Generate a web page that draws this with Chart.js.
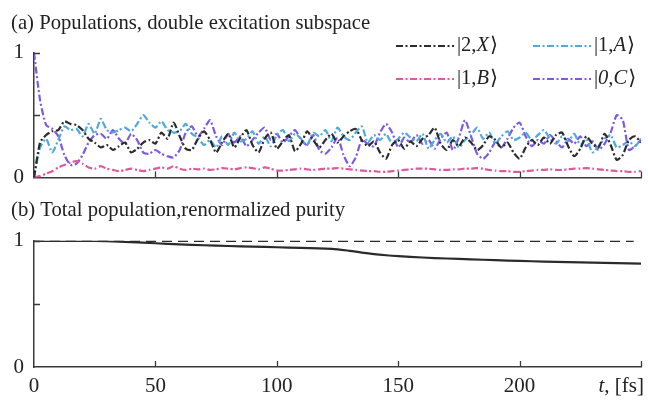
<!DOCTYPE html>
<html>
<head>
<meta charset="utf-8">
<script src="https://cdn.jsdelivr.net/npm/chart.js@4.4.1/dist/chart.umd.min.js"></script>
<style>
  html, body { margin: 0; padding: 0; background: #fff; }
  #wrap { position: relative; width: 648px; height: 400px; }
  #top { position: absolute; left: 0; top: 0; }
  #bottom { position: absolute; left: 0; top: 190px; }
</style>
</head>
<body>
<div id="wrap">
  <canvas id="top" width="648" height="200"></canvas>
  <canvas id="bottom" width="648" height="210"></canvas>
</div>
<script>
// sampling step of the population traces, fs
const STEP = 2.5;

// populations, panel (a)
const popX = [ // |2,X>
  0.00,0.28,0.34,0.37,0.38,0.45,0.43,0.42,0.38,0.31,
  0.28,0.24,0.26,0.22,0.25,0.28,0.20,0.23,0.28,0.30,
  0.27,0.36,0.31,0.44,0.33,0.23,0.22,0.31,0.37,0.30,
  0.20,0.28,0.35,0.24,0.32,0.38,0.26,0.20,0.31,0.36,
  0.23,0.29,0.34,0.21,0.27,0.37,0.30,0.24,0.30,0.35,
  0.28,0.33,0.37,0.39,0.30,0.25,0.29,0.20,0.15,0.26,
  0.30,0.23,0.29,0.25,0.31,0.34,0.40,0.27,0.22,0.30,
  0.25,0.32,0.28,0.22,0.26,0.33,0.30,0.24,0.28,0.20,
  0.15,0.24,0.30,0.26,0.32,0.27,0.34,0.36,0.25,0.17,
  0.23,0.33,0.27,0.24,0.35,0.26,0.14,0.18,0.30,0.33,
  0.28];
const popA = [ // |1,A>
  0.00,0.24,0.31,0.20,0.30,0.41,0.38,0.39,0.33,0.43,
  0.35,0.47,0.38,0.36,0.38,0.40,0.37,0.43,0.50,0.44,
  0.40,0.45,0.38,0.36,0.37,0.43,0.35,0.32,0.26,0.30,
  0.24,0.33,0.26,0.36,0.29,0.31,0.37,0.27,0.33,0.25,
  0.34,0.38,0.29,0.35,0.31,0.26,0.36,0.33,0.38,0.29,
  0.40,0.33,0.30,0.36,0.41,0.28,0.34,0.30,0.35,0.27,
  0.31,0.36,0.32,0.29,0.35,0.23,0.30,0.35,0.28,0.33,
  0.24,0.30,0.34,0.40,0.31,0.36,0.27,0.33,0.37,0.30,
  0.32,0.36,0.30,0.34,0.38,0.31,0.27,0.33,0.29,0.35,
  0.26,0.31,0.20,0.25,0.31,0.34,0.24,0.26,0.29,0.25,
  0.31];
const popB = [ // |1,B>
  0.00,0.01,0.03,0.05,0.08,0.10,0.12,0.13,0.11,0.08,
  0.07,0.09,0.07,0.06,0.05,0.06,0.07,0.06,0.05,0.06,
  0.07,0.08,0.07,0.09,0.07,0.06,0.07,0.065,0.07,0.06,
  0.065,0.075,0.07,0.065,0.075,0.08,0.075,0.065,0.08,0.07,
  0.055,0.055,0.06,0.065,0.07,0.065,0.06,0.065,0.07,0.07,
  0.075,0.07,0.065,0.06,0.055,0.05,0.05,0.045,0.045,0.05,
  0.055,0.06,0.065,0.07,0.07,0.07,0.065,0.06,0.06,0.065,
  0.065,0.07,0.07,0.075,0.07,0.06,0.055,0.05,0.05,0.045,
  0.045,0.05,0.055,0.06,0.06,0.065,0.06,0.06,0.065,0.07,
  0.07,0.075,0.07,0.065,0.06,0.055,0.05,0.05,0.045,0.045,
  0.05];
const popC = [ // |0,C>
  1.00,0.62,0.42,0.39,0.33,0.18,0.10,0.11,0.18,0.28,
  0.34,0.35,0.31,0.38,0.31,0.27,0.35,0.30,0.20,0.19,
  0.22,0.19,0.17,0.16,0.22,0.36,0.41,0.33,0.39,0.46,
  0.33,0.26,0.35,0.28,0.33,0.25,0.30,0.36,0.40,0.30,
  0.35,0.28,0.33,0.38,0.30,0.26,0.34,0.22,0.19,0.24,
  0.32,0.18,0.09,0.16,0.30,0.27,0.25,0.36,0.43,0.36,
  0.24,0.32,0.28,0.34,0.27,0.30,0.23,0.31,0.36,0.22,
  0.32,0.46,0.33,0.19,0.15,0.20,0.28,0.24,0.31,0.40,
  0.44,0.33,0.25,0.30,0.27,0.34,0.29,0.24,0.31,0.27,
  0.33,0.25,0.29,0.22,0.27,0.36,0.50,0.46,0.22,0.25,
  0.30];

// panel (b)
const totalT = [0, 247];
const totalV = [1, 1];
const purityT = [0,25,30,40,50,60,70,80,90,100,110,120,125,130,135,140,145,150,160,170,180,190,200,210,220,230,240,250];
const purityV = [1.0,1.0,0.998,0.99,0.981,0.972,0.965,0.959,0.954,0.949,0.944,0.939,0.933,0.921,0.907,0.895,0.886,0.879,0.868,0.86,0.853,0.847,0.841,0.836,0.832,0.828,0.823,0.819];

const xTicks = [0, 50, 100, 150, 200];
const legendLabels = [['|2,', 'X', '\u27E9'], ['|1,', 'A', '\u27E9'], ['|1,', 'B', '\u27E9'], ['|', '0,C', '\u27E9']];

const SERIF = "'Liberation Serif', 'DejaVu Serif', serif";
const INK = '#222';
const AXIS = '#3a3a3a';
const DASHDOT = [7, 2.5, 2, 2.5];

const toPts = (xs, ys) => ys.map((y, i) => ({ x: xs[i], y }));
const gridT = popX.map((_, i) => i * STEP);

// ticks drawn inward from the axis lines
const inwardTicks = {
  id: 'inwardTicks',
  afterDraw(chart) {
    const { ctx, chartArea, scales } = chart;
    ctx.save();
    ctx.strokeStyle = AXIS;
    ctx.lineWidth = 1.3;
    ctx.beginPath();
    scales.x.ticks.forEach(t => {
      if (t.value === 0) return;
      const px = Math.round(scales.x.getPixelForValue(t.value)) + 0.5;
      ctx.moveTo(px, chartArea.bottom);
      ctx.lineTo(px, chartArea.bottom - 6);
    });
    scales.y.ticks.forEach(t => {
      if (t.value === 0) return;
      const py = Math.round(scales.y.getPixelForValue(t.value)) + 0.5;
      ctx.moveTo(chartArea.left, py);
      ctx.lineTo(chartArea.left + 6, py);
    });
    ctx.stroke();
    ctx.restore();
  }
};

// two-column legend with italic state letters
const pairLegend = {
  id: 'pairLegend',
  afterDraw(chart) {
    const { ctx } = chart;
    const cols = [396, 533];
    const rows = [46, 79];
    ctx.save();
    chart.data.datasets.forEach((ds, i) => {
      const x = cols[i % 2], y = rows[Math.floor(i / 2)];
      ctx.strokeStyle = ds.borderColor;
      ctx.lineWidth = 2.2;
      ctx.setLineDash(ds.borderDash);
      ctx.beginPath();
      ctx.moveTo(x, y);
      ctx.lineTo(x + 58, y);
      ctx.stroke();
      ctx.setLineDash([]);
      ctx.fillStyle = INK;
      ctx.textBaseline = 'middle';
      let tx = x + 61;
      const [a, b, c] = legendLabels[i];
      ctx.font = '20.5px ' + SERIF;
      ctx.fillText(a, tx, y);
      tx += ctx.measureText(a).width;
      ctx.font = 'italic 20.5px ' + SERIF;
      ctx.fillText(b, tx, y);
      tx += ctx.measureText(b).width + 1;
      ctx.font = '20.5px ' + SERIF;
      ctx.fillText(c, tx, y);
    });
    ctx.restore();
  }
};

// axis caption in place of the last tick label
const timeCaption = {
  id: 'timeCaption',
  afterDraw(chart) {
    const { ctx, chartArea } = chart;
    ctx.save();
    ctx.fillStyle = INK;
    ctx.textBaseline = 'middle';
    const y = chartArea.bottom + 19;
    ctx.font = '21px ' + SERIF;
    const rest = ', [fs]';
    const wr = ctx.measureText(rest).width;
    const right = 644;
    ctx.fillText(rest, right - wr, y);
    ctx.font = 'italic 21px ' + SERIF;
    const wt = ctx.measureText('t').width;
    ctx.fillText('t', right - wr - wt, y);
    ctx.restore();
  }
};

function xScale(showLabels, height) {
  return {
    type: 'linear', min: 0, max: 250,
    grid: { display: false, drawTicks: false },
    border: { display: true, color: AXIS, width: 1.5 },
    ticks: {
      display: showLabels, stepSize: 50, padding: 7,
      color: INK, font: { family: SERIF, size: 21 },
      callback: v => xTicks.includes(v) ? String(v) : ''
    },
    afterFit: s => { s.height = height; }
  };
}

function yScale() {
  return {
    min: 0, max: 1,
    grid: { display: false, drawTicks: false },
    border: { display: true, color: AXIS, width: 1.5 },
    ticks: {
      stepSize: 0.5, padding: 10,
      color: INK, font: { family: SERIF, size: 21 },
      callback: v => (v === 0 || v === 1) ? String(v) : ''
    },
    afterFit: s => { s.width = 23; }
  };
}

function titleOpts(text, top, bottom) {
  return {
    display: true, text, align: 'start', color: INK,
    font: { family: SERIF, size: 20.7, weight: 'normal' },
    padding: { top, bottom }
  };
}

function popSet(label, data, color) {
  return {
    label, data: toPts(gridT, data), borderColor: color,
    borderWidth: 2.2, borderDash: DASHDOT, pointRadius: 0,
    tension: 0.2, fill: false
  };
}

new Chart(document.getElementById('top'), {
  type: 'line',
  data: {
    datasets: [
      popSet('|2,X>', popX, '#2b2b2b'),
      popSet('|1,A>', popA, '#4fa9dc'),
      popSet('|1,B>', popB, '#e2589c'),
      popSet('|0,C>', popC, '#7c5ae6')
    ]
  },
  options: {
    responsive: false,
    animation: false,
    layout: { padding: { left: 11, right: 7, top: 0, bottom: 0 } },
    scales: { x: xScale(false, 13), y: yScale() },
    plugins: {
      legend: { display: false },
      tooltip: { enabled: false },
      title: titleOpts('(a) Populations, double excitation subspace', 11, 17)
    }
  },
  plugins: [inwardTicks, pairLegend]
});

new Chart(document.getElementById('bottom'), {
  type: 'line',
  data: {
    datasets: [
      {
        label: 'total population', data: toPts(totalT, totalV),
        borderColor: '#2b2b2b', borderWidth: 2.4, borderDash: [10, 6], pointRadius: 0
      },
      {
        label: 'renormalized purity', data: toPts(purityT, purityV),
        borderColor: '#2b2b2b', borderWidth: 2.2, pointRadius: 0, tension: 0.35
      }
    ]
  },
  options: {
    responsive: false,
    animation: false,
    layout: { padding: { left: 11, right: 7, top: 0, bottom: 0 } },
    scales: { x: xScale(true, 33), y: yScale() },
    plugins: {
      legend: { display: false },
      tooltip: { enabled: false },
      title: titleOpts('(b) Total population,renormalized purity', 8, 18)
    }
  },
  plugins: [inwardTicks, timeCaption]
});
</script>
</body>
</html>
